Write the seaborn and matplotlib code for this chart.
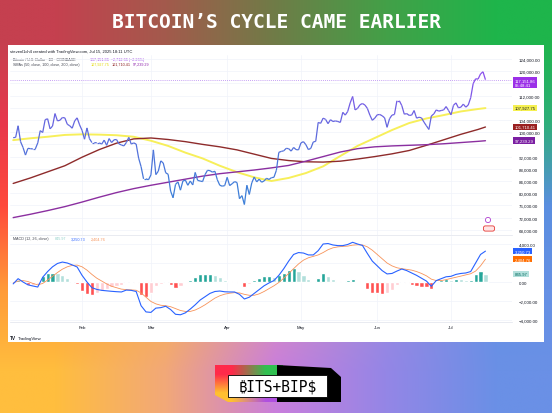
import numpy as np
import pandas as pd
import seaborn as sns
import matplotlib.pyplot as plt
import matplotlib.dates as mdates
from matplotlib.patches import Rectangle, Polygon, Circle, FancyBboxPatch
from matplotlib.collections import LineCollection
from matplotlib.colors import LinearSegmentedColormap, to_rgb

sns.set_style("white")
plt.rcParams['font.family'] = ['Liberation Sans', 'DejaVu Sans']

W, H = 552, 414

# BTC daily close, USD thousands, Jan 4 -> Jul 15 2025
btc_close = [
    98.2, 98.3, 102.1, 96.9, 95.0, 92.5, 94.7, 94.6, 94.5, 94.5, 96.5, 100.5, 99.9, 104.1,
    104.4, 101.1, 102.0, 106.1, 103.7, 103.9, 104.8, 104.7, 102.6, 102.1, 101.3, 103.7, 104.7, 102.4,
    100.6, 97.7, 101.4, 97.9, 96.6, 96.6, 96.5, 96.5, 96.1, 97.4, 95.7, 97.9, 96.6, 97.5,
    97.6, 96.2, 95.8, 95.5, 96.6, 98.3, 96.1, 96.5, 96.1, 91.5, 88.7, 84.7, 84.7, 84.4,
    86.0, 94.2, 86.1, 87.2, 90.6, 89.9, 86.7, 86.2, 80.7, 78.5, 82.9, 83.7, 81.0, 84.0, 84.3, 82.6,
    84.0, 82.7, 86.8, 84.2, 84.0, 83.8, 86.1, 87.5, 87.4, 86.9, 87.2, 84.4, 82.6, 82.3, 82.5,
    85.2, 82.5, 83.1, 83.8, 83.5, 78.2, 79.2, 76.3, 82.6, 79.6, 83.4, 85.3, 83.7, 84.6, 83.6,
    84.0, 84.9, 84.5, 85.1, 85.2, 87.5, 93.4, 93.7, 93.9, 94.7, 94.6, 93.8, 95.0, 94.3, 94.2,
    96.5, 96.9, 95.9, 94.3, 94.7, 96.8, 97.0, 103.2, 102.9, 104.6, 104.2, 102.8, 104.1, 103.5,
    103.7, 103.5, 103.2, 106.5, 105.6, 106.8, 109.6, 111.7, 107.3, 107.8, 109.0, 109.4, 108.9,
    107.8, 105.6, 103.9, 104.6,
    105.7, 105.8, 105.4, 104.7, 101.6, 104.4, 105.6, 105.8, 110.3, 110.3, 108.7, 105.9, 106.1,
    105.5, 105.6, 107.1, 104.6, 104.9, 104.7, 103.3, 102.1, 100.9, 105.3, 106.0, 107.3, 106.9,
    107.1, 107.3, 108.4, 107.1,
    105.7, 108.8, 109.6, 108.0, 108.2, 109.2, 108.2, 108.9, 111.3, 115.9, 117.5, 117.4, 119.1,
    119.8, 117.2,
]
price_dates = pd.date_range("2025-01-04", periods=len(btc_close), freq="D")

# SMAs (USD thousands)
sma_dates = pd.to_datetime([
    "2025-01-04", "2025-01-11", "2025-01-18", "2025-01-25", "2025-02-01", "2025-02-08",
    "2025-02-15", "2025-02-22", "2025-03-01", "2025-03-08", "2025-03-15", "2025-03-22",
    "2025-03-29", "2025-04-05", "2025-04-12", "2025-04-19", "2025-04-26", "2025-05-03",
    "2025-05-10", "2025-05-17", "2025-05-24", "2025-05-31", "2025-06-07", "2025-06-14",
    "2025-06-21", "2025-06-28", "2025-07-05", "2025-07-12", "2025-07-15"])
sma50 = [97.4, 98.0, 98.5, 99.1, 99.3, 99.2, 99.0, 98.5, 97.2, 95.5, 93.3, 91.4, 89.0, 86.9,
         85.2, 84.0, 85.0, 86.6, 88.8, 92.2, 95.5, 98.1, 100.7, 103.0, 104.5, 105.6, 106.8,
         107.6, 107.9]
sma100 = [83.2, 85.0, 87.0, 89.0, 91.8, 94.3, 96.4, 97.8, 98.1, 97.6, 96.9, 96.0, 95.2, 94.2,
          92.8, 91.4, 90.7, 90.3, 90.2, 90.5, 91.2, 92.0, 92.9, 94.0, 95.7, 97.5, 99.3,
          100.9, 101.7]
sma200 = [72.0, 73.1, 74.3, 75.6, 77.1, 78.7, 80.2, 81.5, 82.6, 83.6, 84.6, 85.6, 86.4, 87.0,
          87.6, 88.3, 89.1, 90.5, 92.0, 93.5, 94.6, 95.2, 95.5, 95.7, 95.9, 96.2, 96.6,
          97.0, 97.2]

# MACD (12, 26) and signal, read every 2 days (USD)
macd_line = [
    -200, 350, 0, -300, -420, -530, 500, 1100, 1600, 1950, 2100, 2000, 1800, 1580,
    700, 0, -600, -780, -880, -930, -980, -1020, -1050, -850, -880, -1000, -2500, -3150,
    -3200, -2750, -2700, -2550, -2900, -3400, -3450, -3250, -2850, -2400, -1900, -1550,
    -1200, -1000, -950, -1030,
    -1050, -1050, -1300, -1790, -1600, -1200, -800, -400, -100, 150, 700, 1400, 2200, 2900, 3100,
    3050, 2850, 2850, 3300, 4000, 4050, 3900, 3830, 3830, 3950, 4180, 4000, 3850, 3000, 2200,
    1700, 1200, 850, 900, 1150, 1370, 1200, 950, 700, 400, 100, -450, 150, 350, 550,
    600, 800, 900, 950, 1100, 2000, 2900, 3250.73,
]
signal_line = [
    -100, 100, 150, 50, -150, -300, -150, 200, 600, 1000, 1350, 1600, 1750, 1780,
    1600, 1250, 800, 400, 100, -200, -450, -600, -750, -800, -830, -870, -1150, -1600,
    -2050, -2300, -2450, -2500, -2600, -2800, -3000, -3100, -3100, -2950, -2700, -2400,
    -2050, -1700, -1450, -1280,
    -1180, -1120, -1150, -1300, -1400, -1400, -1250, -1000, -700, -400, -50, 400, 900, 1400, 1900,
    2300, 2550, 2700, 2850, 3100, 3400, 3600, 3700, 3750, 3780, 3880, 3920, 3900, 3700, 3350,
    2900, 2450, 2000, 1700, 1500, 1400, 1330, 1250, 1100, 900, 650, 300, 150, 150, 250,
    380, 500, 620, 750, 870, 1150, 1700, 2404.76,
]
macd_dates = pd.date_range("2025-01-04", periods=len(macd_line), freq="2D")

price_ticks = [68, 72, 76, 80, 84, 88, 92, 96, 100, 104, 108, 112, 116, 120, 124]
price_tick_hidden = [96, 108, 116]
macd_ticks = [-4000, -2000, 0, 2000, 4000]

fig = plt.figure(figsize=(W / 100, H / 100), dpi=100)

# gradient frame
grid = [
    ["#C5404F", "#A35A4C", "#6F7C47", "#43A048", "#1EB54B"],
    ["#E8384C", "#C05050", "#8A6A60", "#5A90A0", "#2EAE7A"],
    ["#FF4A3C", "#E06060", "#B07090", "#7A88D0", "#5A8EE0"],
    ["#FF9A38", "#F7B050", "#D890B8", "#9A8AE0", "#6590E4"],
    ["#FFBE3E", "#F2A878", "#C97EDC", "#9486E6", "#6A90E6"],
]
grad = np.array([[to_rgb(c) for c in row] for row in grid])
bg = fig.add_axes([0, 0, 1, 1], zorder=-5)
bg.imshow(grad, extent=(0, W, H, 0), interpolation="bilinear", aspect="auto")
bg.set_xlim(0, W)
bg.set_ylim(H, 0)
bg.axis("off")
bg.add_patch(Rectangle((8, 46), 536, 297, fc="white", ec="none"))
bg.text(276, 22, "BITCOIN’S CYCLE CAME EARLIER", ha="center", va="center", color="white",
        fontsize=14, fontweight="bold", family="DejaVu Sans Mono")

# logo
logo_grad = np.array([[to_rgb("#FF2A4A"), to_rgb("#30C050")],
                      [to_rgb("#FFC030"), to_rgb("#B050E0")]])
im = bg.imshow(logo_grad, extent=(215, 283, 403, 366), interpolation="bilinear", aspect="auto")
clip = Polygon([(215, 366), (283, 366), (283, 403), (228, 403), (215, 396)], closed=True,
               transform=bg.transData, fc="none", ec="none")
bg.add_patch(clip)
im.set_clip_path(clip)
bg.add_patch(Polygon([(277, 366), (331, 369), (341, 378), (341, 403), (277, 403)],
                     closed=True, fc="black", ec="none"))
bg.add_patch(Rectangle((228, 376), 99, 22, fc="white", ec="black", lw=0.6))
bg.text(277.5, 387.5, "₿ITS+BIP$", ha="center", va="center", fontsize=10.5, color="black",
        family=["DejaVu Sans Mono", "Noto Sans", "Roboto", "Open Sans", "Lato", "Inter",
                "Noto Sans CJK SC", "DejaVu Sans"])

# header text
ink = "#131722"
fs = 3.0
lfs = 2.7
bg.text(10, 51.5, "stevenl1ch4 created with TradingView.com, Jul 15, 2025 18:11 UTC",
        fontsize=fs, color=ink, va="center")
bg.text(13, 60, "Bitcoin / U.S. Dollar · 1D · COINBASE", fontsize=lfs, color="#434651", va="center")
bg.text(90, 60, "117,151.86  −2,712.66 (−2.26%)", fontsize=lfs, color="#9C3FE6", va="center")
bg.text(13, 64.8, "SMAs (50, close, 100, close, 200, close)", fontsize=lfs, color="#434651", va="center")
bg.text(91, 64.8, "107,927.75", fontsize=lfs, color="#E3D800", va="center")
bg.text(112, 64.8, "101,710.41", fontsize=lfs, color="#8B1E1E", va="center")
bg.text(133, 64.8, "97,239.29", fontsize=lfs, color="#8E24AA", va="center")
bg.text(13, 239.5, "MACD (12, 26, close)", fontsize=lfs, color="#434651", va="center")
bg.text(55, 239.5, "845.97", fontsize=lfs, color="#8FCFC8", va="center")
bg.text(71, 239.5, "3,250.73", fontsize=lfs, color="#2962FF", va="center")
bg.text(91, 239.5, "2,404.76", fontsize=lfs, color="#F7935A", va="center")
bg.text(10, 339, "TV", fontsize=3.4, color=ink, va="center", fontweight="heavy")
bg.text(18, 339, "TradingView", fontsize=3.2, color=ink, va="center")

xmin = pd.Timestamp("2025-01-02 17:00")
xmax = pd.Timestamp("2025-07-25 19:00")

# price pane
ax = fig.add_axes([10 / W, 1 - 236 / H, 502 / W, 180 / H])
ax.set_facecolor("none")
ax.set_xlim(xmin, xmax)
ax.set_ylim(66.3, 125.3)

xs = mdates.date2num(price_dates)
pts = np.column_stack([xs, btc_close])
segs = np.stack([pts[:-1], pts[1:]], axis=1)
cmap = LinearSegmentedColormap.from_list("px", ["#3D7FD8", "#5B6CDC", "#8A50EC"])
lc = LineCollection(segs, cmap=cmap, norm=plt.Normalize(80, 118), lw=0.9, zorder=4)
lc.set_array((pts[:-1, 1] + pts[1:, 1]) / 2)
ax.add_collection(lc)

sns.lineplot(x=sma_dates, y=sma50, ax=ax, color="#F7EF5A", lw=1.4, zorder=3)
sns.lineplot(x=sma_dates, y=sma100, ax=ax, color="#8E2B2B", lw=1.0, zorder=3)
sns.lineplot(x=sma_dates, y=sma200, ax=ax, color="#8B2FA0", lw=1.0, zorder=3)
ax.axhline(117.15186, color="#B583F2", ls=(0, (1, 1.5)), lw=0.6, zorder=2)

ax.set_yticks(price_ticks)
ax.set_yticklabels(["" if t in price_tick_hidden else f"{t * 1000:,.2f}" for t in price_ticks])
ax.yaxis.tick_right()

# macd pane
ax2 = fig.add_axes([10 / W, 1 - 323 / H, 502 / W, 86 / H])
ax2.set_facecolor("none")
ax2.set_xlim(xmin, xmax)
ax2.set_ylim(-4212, 4844)
hist = np.array(macd_line) - np.array(signal_line)
bar_colors = []
for i, h in enumerate(hist):
    prev = hist[i - 1] if i > 0 else 0
    if h >= 0:
        bar_colors.append("#26A69A" if h >= prev else "#B2DFDB")
    else:
        bar_colors.append("#FF5252" if h <= prev else "#FFCDD2")
ax2.bar(macd_dates, hist, width=1.7, color=bar_colors, zorder=2)
sns.lineplot(x=macd_dates, y=signal_line, ax=ax2, color="#F7935A", lw=0.6, zorder=3)
sns.lineplot(x=macd_dates, y=macd_line, ax=ax2, color="#2962FF", lw=0.8, zorder=4)
ax2.set_yticks(macd_ticks)
ax2.set_yticklabels([f"{t:,.2f}".replace("-", "−") if t != 2000 else "" for t in macd_ticks])
ax2.yaxis.tick_right()

for a in (ax, ax2):
    a.set_xlabel("")
    a.set_ylabel("")
    a.xaxis.set_major_locator(mdates.MonthLocator())
    a.xaxis.set_major_formatter(mdates.DateFormatter("%b"))
    a.grid(True, color="#F0F3FA", lw=0.5, zorder=0)
    a.tick_params(length=0, labelsize=3.2, colors=ink, pad=5)
    for s in ("top", "left", "right"):
        a.spines[s].set_visible(False)
    a.spines["bottom"].set_color("#E0E3EB")
    a.spines["bottom"].set_linewidth(0.5)
ax.tick_params(axis="x", labelbottom=False)
ax2.tick_params(axis="x", pad=2)


def tag(axis, y, txt, fc, tc="white"):
    axis.text(1.005, y, txt, transform=axis.get_yaxis_transform(), fontsize=3.1, color=tc,
              va="center", ha="left", zorder=6, clip_on=False,
              bbox=dict(boxstyle="square,pad=0.3", fc=fc, ec="none"))


tag(ax, 116.3, "117,151.86\n05:48:41", "#9B30E8")
tag(ax, 107.92775, "107,927.75", "#F5F050", ink)
tag(ax, 101.71041, "101,710.41", "#9A2020")
tag(ax, 97.23929, "97,239.29", "#7B1FA2")
tag(ax2, 3250.73, "3,250.73", "#2962FF")
tag(ax2, 2404.76, "2,404.76", "#FF6D00")
tag(ax2, 845.97, "845.97", "#B2DFDB", "#00695C")

# event markers near the right edge of the price pane
fg = fig.add_axes([0, 0, 1, 1], zorder=10)
fg.set_xlim(0, W)
fg.set_ylim(H, 0)
fg.axis("off")
fg.add_patch(Circle((488, 221), 2.6, fc="white", ec="#B040D0", lw=0.6))
fg.add_patch(FancyBboxPatch((484, 227.5), 10, 4, boxstyle="round,pad=0.6,rounding_size=2",
                            fc="#FFE5E5", ec="#E53935", lw=0.6))

fig.savefig("out.png", dpi=100)
